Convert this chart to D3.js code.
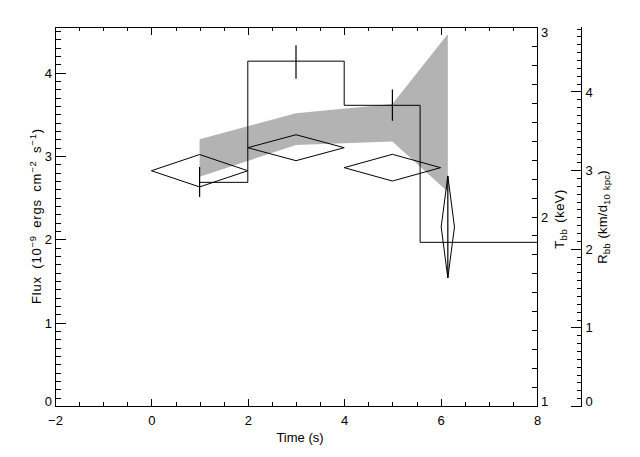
<!DOCTYPE html>
<html><head><meta charset="utf-8">
<script src="https://cdn.jsdelivr.net/npm/d3@7"></script>
<style>
body{margin:0;background:#fff}
text{font-family:"Liberation Sans",Arial,sans-serif;font-size:13px;fill:#000}
</style>
</head><body><svg id="c" width="640" height="457"></svg>
<script>
// ---- data ----
const fluxTimes   = [1, 3, 5, 6.15];
const fluxValues  = [2.685, 4.14, 3.61, 1.965];
const fluxErrLow  = [2.51, 3.93, 3.425, 1.54];
const fluxErrHigh = [2.87, 4.33, 3.80, 2.76];

const tbbTimes = [1, 3, 5, 6.15];
const tbbUpper = [2.407, 2.545, 2.594, 2.963];
const tbbLower = [2.210, 2.377, 2.396, 2.131];

const rbbTimes   = [1, 3, 5, 6.15];
const rbbValues  = [2.992, 3.285, 3.031, 2.277];
const rbbErr     = [0.206, 0.165, 0.17, 0.649];
const rbbHalfBin = [1, 1, 1, 0.138];

const xTicks    = [-2, 0, 2, 4, 6, 8];
const fluxTicks = [0, 1, 2, 3, 4];
const tbbTicks  = [1, 2, 3];
const rbbTicks  = [0, 1, 2, 3, 4];

const xDomain = [-2, 8], fluxDomain = [0, 4.55], tbbDomain = [1, 3], rbbDomain = [0, 4.82];

// ---- layout ----
const L = 55, R = 537, T = 27, B = 406, RX = 581.5;
const svg = d3.select("#c");
const x  = d3.scaleLinear().domain(xDomain).range([L, R]);
const yF = d3.scaleLinear().domain(fluxDomain).range([B, T]);
const yT = d3.scaleLinear().domain(tbbDomain).range([B, T]);
const yR = d3.scaleLinear().domain(rbbDomain).range([B, T]);

const rng = (a, b, s) => d3.range(Math.round((b - a) / s) + 1).map(i => +(a + i * s).toFixed(4));

// grey band (T_bb range)
const band = tbbTimes.map((t, i) => ({t, lo: tbbLower[i], hi: tbbUpper[i]}));
svg.append("path").datum(band)
  .attr("d", d3.area().x(d => x(d.t)).y0(d => yT(d.lo)).y1(d => yT(d.hi)))
  .attr("fill", "#b3b3b3");

// flux histogram (steps at midpoints)
const stepPts = [];
fluxTimes.forEach((t, i) => {
  const x0 = i === 0 ? t : (fluxTimes[i - 1] + t) / 2;
  const x1 = i === fluxTimes.length - 1 ? xDomain[1] : (t + fluxTimes[i + 1]) / 2;
  stepPts.push([x0, fluxValues[i]], [x1, fluxValues[i]]);
});
svg.append("path").datum(stepPts)
  .attr("d", d3.line().x(d => x(d[0])).y(d => yF(d[1])))
  .attr("fill", "none").attr("stroke", "#000").attr("stroke-width", 1);

// flux error bars
svg.selectAll(".err").data(fluxTimes).join("line")
  .attr("x1", d => x(d)).attr("x2", d => x(d))
  .attr("y1", (d, i) => yF(fluxErrLow[i])).attr("y2", (d, i) => yF(fluxErrHigh[i]))
  .attr("stroke", "#000").attr("stroke-width", 1.2);

// R_bb diamonds
svg.selectAll(".dia").data(rbbTimes).join("path")
  .attr("d", (t, i) => {
    const cx = x(t), cy = yR(rbbValues[i]);
    const hw = x(t + rbbHalfBin[i]) - cx, hh = yR(rbbValues[i] - rbbErr[i]) - cy;
    return `M${cx - hw},${cy}L${cx},${cy - hh}L${cx + hw},${cy}L${cx},${cy + hh}Z`;
  })
  .attr("fill", "none").attr("stroke", "#000").attr("stroke-width", 1);

// ---- axes ----
function clampLabel(sel, scale) {
  sel.selectAll(".tick text").attr("y", function () {
    const ty = scale(+d3.select(this.parentNode).datum());
    const cy = Math.max(T + 5, Math.min(B - 5, ty));
    return cy - ty;
  }).attr("dy", "0.35em");
}
function tickOnly(g) { g.select(".domain").remove(); g.selectAll(".tick line").attr("stroke", "#000"); }

// bottom
svg.append("g").attr("transform", `translate(0,${B})`)
  .call(d3.axisBottom(x).tickValues(rng(-2, 8, 0.5)).tickSize(-4).tickFormat("")).call(tickOnly);
const gb = svg.append("g").attr("transform", `translate(0,${B})`)
  .call(d3.axisBottom(x).tickValues(xTicks).tickSize(-7.5).tickSizeOuter(0).tickPadding(10)
    .tickFormat(d => d < 0 ? "−" + Math.abs(d) : d));
gb.selectAll("text").attr("dy", "0.71em").attr("y", 10);
// top
svg.append("g").attr("transform", `translate(0,${T})`)
  .call(d3.axisTop(x).tickValues(rng(-2, 8, 0.5)).tickSize(-4).tickFormat("")).call(tickOnly);
svg.append("g").attr("transform", `translate(0,${T})`)
  .call(d3.axisTop(x).tickValues(xTicks).tickSize(-7.5).tickSizeOuter(0).tickFormat(""));
// left flux
svg.append("g").attr("transform", `translate(${L},0)`)
  .call(d3.axisLeft(yF).tickValues(rng(0, 4.5, 0.1)).tickSize(-5.5).tickFormat("")).call(tickOnly);
const gl = svg.append("g").attr("transform", `translate(${L},0)`)
  .call(d3.axisLeft(yF).tickValues(fluxTicks).tickSize(-10.5).tickSizeOuter(0).tickPadding(3).tickFormat(d3.format("d")));
clampLabel(gl, yF);
gl.select(".domain").attr("d", `M0,${B}V${T}`);
// right T_bb (plot frame)
svg.append("g").attr("transform", `translate(${R},0)`)
  .call(d3.axisRight(yT).tickValues(rng(1, 3, 0.1)).tickSize(-5.3).tickFormat("")).call(tickOnly);
const gt = svg.append("g").attr("transform", `translate(${R},0)`)
  .call(d3.axisRight(yT).tickValues(tbbTicks).tickSize(-5.3).tickSizeOuter(0).tickPadding(4).tickFormat(d3.format("d")));
clampLabel(gt, yT);
// far right R_bb
svg.append("g").attr("transform", `translate(${RX},0)`)
  .call(d3.axisRight(yR).tickValues(rng(0, 4.8, 0.1)).tickSize(-5).tickFormat("")).call(tickOnly);
const gr = svg.append("g").attr("transform", `translate(${RX},0)`)
  .call(d3.axisRight(yR).tickValues(rbbTicks).tickSize(-11).tickSizeOuter(0).tickPadding(4).tickFormat(d3.format("d")));
clampLabel(gr, yR);
gr.select(".domain").attr("d", `M0,${B}V${T}`);

svg.selectAll(".domain, .tick line").attr("stroke", "#000").attr("stroke-width", 1).attr("shape-rendering", "crispEdges");
svg.selectAll(".tick text").attr("font-family", null).attr("font-size", null).attr("fill", "#000");
svg.selectAll("g").attr("font-family", null).attr("font-size", null);

// ---- titles ----
svg.append("text").attr("x", (L + R) / 2 + 4).attr("y", 442).attr("text-anchor", "middle").text("Time (s)");

function richLabel(tx, ty, parts, spacing, wordSpacing) {
  const t = svg.append("text").attr("transform", `translate(${tx},${ty}) rotate(-90)`).attr("text-anchor", "middle")
    .attr("letter-spacing", spacing || 0).attr("word-spacing", wordSpacing || 0);
  let shift = 0;
  parts.forEach(([s, kind]) => {
    const target = kind === "sup" ? -5 : kind === "sub" ? 3 : 0;
    t.append("tspan").attr("dy", target - shift).attr("font-size", kind ? 9.5 : 13).text(s);
    shift = target;
  });
}
richLabel(41, 216, [["Flux (10"], ["−9", "sup"], [" ergs cm"], ["−2", "sup"], [" s"], ["−1", "sup"], [")"]], 0.8, 3);
richLabel(564, 219, [["T"], ["bb", "sub"], [" (keV)"]], 0.5, 2);
richLabel(607, 217, [["R"], ["bb", "sub"], [" (km/d"], ["10 kpc", "sub"], [")"]], 0.2, 1);
</script></body></html>
